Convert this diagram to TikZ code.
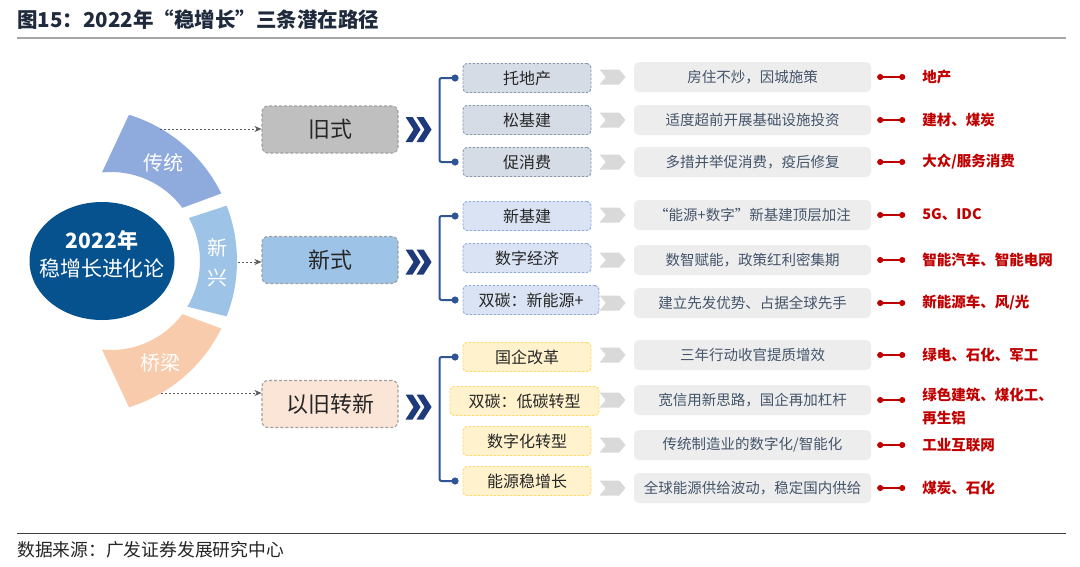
\documentclass[tikz,border=0pt]{standalone}
\usepackage{fontspec}
\setmainfont{Noto Sans CJK SC}
\usepackage{xcolor}
\usepackage{tikz}
\usetikzlibrary{positioning, arrows.meta, shapes.geometric, shapes.symbols}

\definecolor{titleink}{HTML}{1F2A3C}
\definecolor{rulegray}{HTML}{A6A6A6}
\definecolor{ruledark}{HTML}{404040}
\definecolor{textdark}{HTML}{262626}
\definecolor{hubblue}{HTML}{05528F}
\definecolor{ringa}{HTML}{8FAADC}
\definecolor{ringb}{HTML}{9DC3E6}
\definecolor{ringc}{HTML}{F8CBAD}
\definecolor{oldgray}{HTML}{BFBFBF}
\definecolor{newblue}{HTML}{9DC3E6}
\definecolor{mixpeach}{HTML}{FBE5D6}
\definecolor{boxline}{HTML}{A0A0A0}
\definecolor{arrowgray}{HTML}{595959}
\definecolor{chevblue}{HTML}{1F3A7A}
\definecolor{brackblue}{HTML}{2F5597}
\definecolor{catfilla}{HTML}{D6DCE5}
\definecolor{catlinea}{HTML}{8497B0}
\definecolor{catfillb}{HTML}{DAE3F3}
\definecolor{catlineb}{HTML}{8FAADC}
\definecolor{catfillc}{HTML}{FFF2CC}
\definecolor{catlinec}{HTML}{FFD966}
\definecolor{taggray}{HTML}{D9D9D9}
\definecolor{descgray}{HTML}{EDEDED}
\definecolor{descink}{HTML}{44546A}
\definecolor{labred}{HTML}{C00000}

% double chevron, left end at #1
\newcommand{\dblchev}[1]{%
  \fill[chevblue] (#1) ++(0,-12.5) -- ++(7,0) -- ++(8,12.5) -- ++(-8,12.5)
    -- ++(-7,0) -- ++(8,-12.5) -- cycle;
  \fill[chevblue] (#1) ++(11,-12.5) -- ++(7,0) -- ++(8,12.5) -- ++(-8,12.5)
    -- ++(-7,0) -- ++(8,-12.5) -- cycle;}

\begin{document}
\begin{tikzpicture}[
      x=1pt, y=-1pt,
      >={Stealth[round]},
      ringtxt/.style={text=white, inner sep=0pt, font=\fontsize{20}{30}\selectfont},
      mainbox/.style={draw=boxline, dash pattern=on 3pt off 2pt, line width=1.1pt,
        rounded corners=6pt, minimum width=136pt, minimum height=47pt,
        text=textdark, font=\fontsize{22}{26}\selectfont},
      flow/.style={draw=arrowgray, dash pattern=on 2pt off 2pt, line width=0.8pt,
        -{Stealth[length=7pt, width=6pt]}},
      bracket/.style={draw=brackblue, line width=2pt, rounded corners=2pt,
        {Circle[length=7pt]}-{Circle[length=7pt]}},
      catbox/.style={dash pattern=on 2.5pt off 1.5pt, line width=0.9pt,
        rounded corners=4pt, minimum width=128pt, minimum height=29pt, inner sep=0pt,
        text=textdark, font=\fontsize{16}{19}\selectfont},
      cata/.style={catbox, fill=catfilla, draw=catlinea},
      catb/.style={catbox, fill=catfillb, draw=catlineb},
      catc/.style={catbox, fill=catfillc, draw=catlinec},
      rowtag/.style={signal, signal to=east, signal from=west, fill=taggray,
        minimum width=26pt, minimum height=15pt, inner sep=0pt, signal pointer angle=100},
      descbox/.style={fill=descgray, rounded corners=5pt, minimum width=237pt,
        minimum height=30pt, inner sep=0pt, text=descink, font=\fontsize{14.5}{17}\selectfont},
      redtxt/.style={inner sep=0pt, text=labred, align=left,
        font=\bfseries\fontsize{14.5}{23}\selectfont},
      redlink/.style={draw=labred, line width=1.6pt,
        {Circle[length=6pt]}-{Circle[length=6pt]}},
    ]

    \useasboundingbox[fill=white] (0,0) rectangle (1080,566);

    % title, rules and source
    \node[anchor=west, inner sep=0pt, text=titleink,
      font=\bfseries\fontsize{20.5}{24}\selectfont] (title) at (17,20)
      {图15：2022年“稳增长”三条潜在路径};
    \draw[rulegray, line width=2pt] (17,38) -- (1066,38);
    \draw[ruledark, line width=1pt] (17,533) -- (1066,533);
    \node[anchor=west, inner sep=0pt, text=textdark,
      font=\fontsize{17.8}{20}\selectfont] (source) at (17,550)
      {数据来源：广发证券发展研究中心};

    % hub and ring
    \node[ellipse, fill=hubblue, minimum width=145pt, minimum height=118pt,
      inner sep=0pt] (hub) at (102,261) {};
    \node[align=center, text=white, inner sep=0pt,
      font=\fontsize{21}{28}\selectfont] (hubtext) at (102,254)
      {\textbf{2022年}\\稳增长进化论};

    \fill[ringa] ([shift={(84,261)}]-72.9:153) arc[start angle=-72.9, end angle=-26.2, radius=153]
      -- ([shift={(111,261)}]-36.7:89) arc[start angle=-36.7, end angle=-95.8, radius=89] -- cycle;
    \fill[ringb] ([shift={(84,261)}]-21.2:153) arc[start angle=-21.2, end angle=21.2, radius=153]
      -- ([shift={(111,261)}]30.9:89) arc[start angle=30.9, end angle=-28.9, radius=89] -- cycle;
    \fill[ringc] ([shift={(84,261)}]26.2:153) arc[start angle=26.2, end angle=72.9, radius=153]
      -- ([shift={(111,261)}]95.8:89) arc[start angle=95.8, end angle=36.7, radius=89] -- cycle;

    \node[ringtxt] (trad) at (163,163) {传统};
    \node[ringtxt, align=center] (emerg) at (217,263) {新\\兴};
    \node[ringtxt] (bridge) at (160,363) {桥梁};

    % three paths
    \node[mainbox, fill=oldgray] (old) at (330,129.5) {旧式};
    \node[mainbox, fill=newblue] (new) at (330,260) {新式};
    \node[mainbox, fill=mixpeach] (mix) at (330,404) {以旧转新};

    \coordinate (fromtrad) at (160,129);
    \coordinate (fromemerg) at (238,262);
    \coordinate (frombridge) at (161,393);
    \draw[flow] (fromtrad) -- (fromtrad -| old.west);
    \draw[flow] (fromemerg) -- (fromemerg -| new.west);
    \draw[flow] (frombridge) -- (frombridge -| mix.west);

    \dblchev{[xshift=7pt]old.east}
    \dblchev{[xshift=7pt, yshift=-2pt]new.east}
    \dblchev{[xshift=7pt, yshift=-3pt]mix.east}

    % measures
    \node[cata] (c1) at (527,78) {托地产};
    \node[cata] (c2) at (527,120) {松基建};
    \node[cata] (c3) at (527,162) {促消费};
    \node[catb] (c4) at (527,216) {新基建};
    \node[catb] (c5) at (527,258) {数字经济};
    \node[catb, minimum width=136pt] (c6) at (531,300) {双碳：新能源+};
    \node[catc] (c7) at (527,357) {国企改革};
    \node[catc, minimum width=149pt] (c8) at (524.5,401) {双碳：低碳转型};
    \node[catc] (c9) at (527,441) {数字化转型};
    \node[catc] (c10) at (527,481) {能源稳增长};

    \draw[bracket] ([xshift=-4pt]c1.west) -- ++(-19,0) |- ([xshift=-4pt]c3.west);
    \draw[bracket] ([xshift=-4pt]c4.west) -- ++(-19,0) |- ([xshift=-4pt]c6.west);
    \draw[bracket] ([xshift=-4pt]c7.west) -- ++(-19,0) |- ([xshift=-4pt]c10.west);

    % policy notes
    \node[descbox] (d1) at (752.5,77) {房住不炒，因城施策};
    \node[descbox] (d2) at (752.5,120) {适度超前开展基础设施投资};
    \node[descbox] (d3) at (752.5,162) {多措并举促消费，疫后修复};
    \node[descbox] (d4) at (752.5,215) {“能源+数字”新基建顶层加注};
    \node[descbox] (d5) at (752.5,260) {数智赋能，政策红利密集期};
    \node[descbox] (d6) at (752.5,303) {建立先发优势、占据全球先手};
    \node[descbox] (d7) at (752.5,355) {三年行动收官提质增效};
    \node[descbox] (d8) at (752.5,400) {宽信用新思路，国企再加杠杆};
    \node[descbox] (d9) at (752.5,445) {传统制造业的数字化/智能化};
    \node[descbox] (d10) at (752.5,488) {全球能源供给波动，稳定国内供给};

    \node[rowtag, left=8pt of d1] (t1) {};
    \node[rowtag, left=8pt of d2] (t2) {};
    \node[rowtag, left=8pt of d3] (t3) {};
    \node[rowtag, left=8pt of d4] (t4) {};
    \node[rowtag, left=8pt of d5] (t5) {};
    \node[rowtag, left=8pt of d6] (t6) {};
    \node[rowtag, left=8pt of d7] (t7) {};
    \node[rowtag, left=8pt of d8] (t8) {};
    \node[rowtag, left=8pt of d9] (t9) {};
    \node[rowtag, left=8pt of d10] (t10) {};

    % sectors
    \node[redtxt, right=51pt of d1] (l1) {地产};
    \node[redtxt, right=51pt of d2] (l2) {建材、煤炭};
    \node[redtxt, right=51pt of d3] (l3) {大众/服务消费};
    \node[redtxt, right=51pt of d4] (l4) {5G、IDC};
    \node[redtxt, right=51pt of d5] (l5) {智能汽车、智能电网};
    \node[redtxt, right=51pt of d6] (l6) {新能源车、风/光};
    \node[redtxt, right=51pt of d7] (l7) {绿电、石化、军工};
    \node[redtxt, right=51pt of d8, yshift=-6pt] (l8) {绿色建筑、煤化工、\\再生铝};
    \node[redtxt, right=51pt of d9] (l9) {工业互联网};
    \node[redtxt, right=51pt of d10] (l10) {煤炭、石化};

    \draw[redlink] ([xshift=6pt]d1.east) -- ([xshift=-17pt]l1.west);
    \draw[redlink] ([xshift=6pt]d2.east) -- ([xshift=-17pt]l2.west);
    \draw[redlink] ([xshift=6pt]d3.east) -- ([xshift=-17pt]l3.west);
    \draw[redlink] ([xshift=6pt]d4.east) -- ([xshift=-17pt]l4.west);
    \draw[redlink] ([xshift=6pt]d5.east) -- ([xshift=-17pt]l5.west);
    \draw[redlink] ([xshift=6pt]d6.east) -- ([xshift=-17pt]l6.west);
    \draw[redlink] ([xshift=6pt]d7.east) -- ([xshift=-17pt]l7.west);
    \draw[redlink] ([xshift=6pt]d8.east) -- ([xshift=-17pt]l8.west |- d8.east);
    \draw[redlink] ([xshift=6pt]d9.east) -- ([xshift=-17pt]l9.west);
    \draw[redlink] ([xshift=6pt]d10.east) -- ([xshift=-17pt]l10.west);

  \end{tikzpicture}
\end{document}
